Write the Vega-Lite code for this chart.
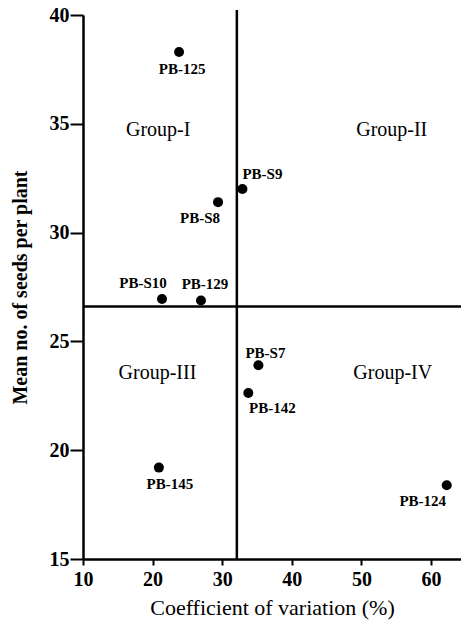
{
  "$schema": "https://vega.github.io/schema/vega-lite/v6.json",
  "width": 378,
  "height": 544,
  "autosize": {"type": "none"},
  "padding": {"left": 83, "top": 15, "right": 0, "bottom": 61},
  "background": "white",
  "config": {
    "view": {"stroke": null},
    "font": "Liberation Serif",
    "axis": {
      "grid": false,
      "domainColor": "black",
      "domainWidth": 2.5,
      "tickColor": "black",
      "tickWidth": 2,
      "labelFont": "Liberation Serif",
      "labelFontSize": 20,
      "labelFontWeight": "bold",
      "labelColor": "black",
      "titleFont": "Liberation Serif",
      "titleColor": "black"
    }
  },
  "datasets": {
    "pts": [
      {"name": "PB-125", "cv": 23.8, "seeds": 38.3},
      {"name": "PB-S8", "cv": 29.4, "seeds": 31.4},
      {"name": "PB-S9", "cv": 32.9, "seeds": 32.0},
      {"name": "PB-S10", "cv": 21.35, "seeds": 26.95},
      {"name": "PB-129", "cv": 26.95, "seeds": 26.88},
      {"name": "PB-S7", "cv": 35.2, "seeds": 23.9},
      {"name": "PB-142", "cv": 33.75, "seeds": 22.63},
      {"name": "PB-145", "cv": 20.9, "seeds": 19.2},
      {"name": "PB-124", "cv": 62.25, "seeds": 18.39}
    ],
    "groups": [
      {"label": "Group-I", "cv": 20.8, "seeds": 34.7},
      {"label": "Group-II", "cv": 54.35, "seeds": 34.7},
      {"label": "Group-III", "cv": 20.7, "seeds": 23.55},
      {"label": "Group-IV", "cv": 54.5, "seeds": 23.55}
    ],
    "vline": [{"cv": 32.1, "y1": 15, "y2": 40.23}],
    "hline": [{"seeds": 26.6, "x1": 10, "x2": 64.3}]
  },
  "layer": [
    {
      "data": {"name": "vline"},
      "mark": {"type": "rule", "color": "black", "strokeWidth": 2.5, "clip": false},
      "encoding": {
        "x": {"field": "cv", "type": "quantitative", "scale": {"domain": [10, 64.3], "nice": false, "zero": false},
          "axis": {"values": [10, 20, 30, 40, 50, 60], "title": "Coefficient of variation (%)", "titleFontSize": 22, "titleFontWeight": "normal", "tickSize": 6, "labelPadding": 4, "titlePadding": 8, "labelFlush": false}},
        "y": {"field": "y1", "type": "quantitative", "scale": {"domain": [15, 40], "nice": false, "zero": false},
          "axis": {"values": [15, 20, 25, 30, 35, 40], "title": "Mean no. of seeds per plant", "titleFontSize": 20, "titleFontWeight": "bold", "tickSize": 13, "labelPadding": 1, "titlePadding": 19, "labelFlush": false}},
        "y2": {"field": "y2"}
      }
    },
    {
      "data": {"name": "hline"},
      "mark": {"type": "rule", "color": "black", "strokeWidth": 2.5, "clip": false},
      "encoding": {
        "y": {"field": "seeds", "type": "quantitative"},
        "x": {"field": "x1", "type": "quantitative"},
        "x2": {"field": "x2"}
      }
    },
    {
      "data": {"name": "pts"},
      "mark": {"type": "point", "filled": true, "color": "black", "opacity": 1, "size": 100},
      "encoding": {
        "x": {"field": "cv", "type": "quantitative"},
        "y": {"field": "seeds", "type": "quantitative"}
      }
    },
    {
      "data": {"name": "groups"},
      "mark": {"type": "text", "fontSize": 20, "color": "black", "font": "Liberation Serif"},
      "encoding": {
        "x": {"field": "cv", "type": "quantitative"},
        "y": {"field": "seeds", "type": "quantitative"},
        "text": {"field": "label"}
      }
    },
    {
      "data": {"name": "pts"},
      "transform": [{"filter": "datum.name === 'PB-125'"}],
      "mark": {"type": "text", "fontSize": 15, "fontWeight": "bold", "color": "black", "dx": 3, "dy": 17},
      "encoding": {"x": {"field": "cv", "type": "quantitative"}, "y": {"field": "seeds", "type": "quantitative"}, "text": {"field": "name"}}
    },
    {
      "data": {"name": "pts"},
      "transform": [{"filter": "datum.name === 'PB-S8'"}],
      "mark": {"type": "text", "fontSize": 15, "fontWeight": "bold", "color": "black", "dx": -18, "dy": 16},
      "encoding": {"x": {"field": "cv", "type": "quantitative"}, "y": {"field": "seeds", "type": "quantitative"}, "text": {"field": "name"}}
    },
    {
      "data": {"name": "pts"},
      "transform": [{"filter": "datum.name === 'PB-S9'"}],
      "mark": {"type": "text", "fontSize": 15, "fontWeight": "bold", "color": "black", "dx": 20, "dy": -15},
      "encoding": {"x": {"field": "cv", "type": "quantitative"}, "y": {"field": "seeds", "type": "quantitative"}, "text": {"field": "name"}}
    },
    {
      "data": {"name": "pts"},
      "transform": [{"filter": "datum.name === 'PB-S10'"}],
      "mark": {"type": "text", "fontSize": 15, "fontWeight": "bold", "color": "black", "dx": -19, "dy": -16},
      "encoding": {"x": {"field": "cv", "type": "quantitative"}, "y": {"field": "seeds", "type": "quantitative"}, "text": {"field": "name"}}
    },
    {
      "data": {"name": "pts"},
      "transform": [{"filter": "datum.name === 'PB-129'"}],
      "mark": {"type": "text", "fontSize": 15, "fontWeight": "bold", "color": "black", "dx": 4, "dy": -16},
      "encoding": {"x": {"field": "cv", "type": "quantitative"}, "y": {"field": "seeds", "type": "quantitative"}, "text": {"field": "name"}}
    },
    {
      "data": {"name": "pts"},
      "transform": [{"filter": "datum.name === 'PB-S7'"}],
      "mark": {"type": "text", "fontSize": 15, "fontWeight": "bold", "color": "black", "dx": 7, "dy": -12},
      "encoding": {"x": {"field": "cv", "type": "quantitative"}, "y": {"field": "seeds", "type": "quantitative"}, "text": {"field": "name"}}
    },
    {
      "data": {"name": "pts"},
      "transform": [{"filter": "datum.name === 'PB-142'"}],
      "mark": {"type": "text", "fontSize": 15, "fontWeight": "bold", "color": "black", "dx": 24, "dy": 15},
      "encoding": {"x": {"field": "cv", "type": "quantitative"}, "y": {"field": "seeds", "type": "quantitative"}, "text": {"field": "name"}}
    },
    {
      "data": {"name": "pts"},
      "transform": [{"filter": "datum.name === 'PB-145'"}],
      "mark": {"type": "text", "fontSize": 15, "fontWeight": "bold", "color": "black", "dx": 11, "dy": 16},
      "encoding": {"x": {"field": "cv", "type": "quantitative"}, "y": {"field": "seeds", "type": "quantitative"}, "text": {"field": "name"}}
    },
    {
      "data": {"name": "pts"},
      "transform": [{"filter": "datum.name === 'PB-124'"}],
      "mark": {"type": "text", "fontSize": 15, "fontWeight": "bold", "color": "black", "dx": -24, "dy": 16},
      "encoding": {"x": {"field": "cv", "type": "quantitative"}, "y": {"field": "seeds", "type": "quantitative"}, "text": {"field": "name"}}
    }
  ]
}
